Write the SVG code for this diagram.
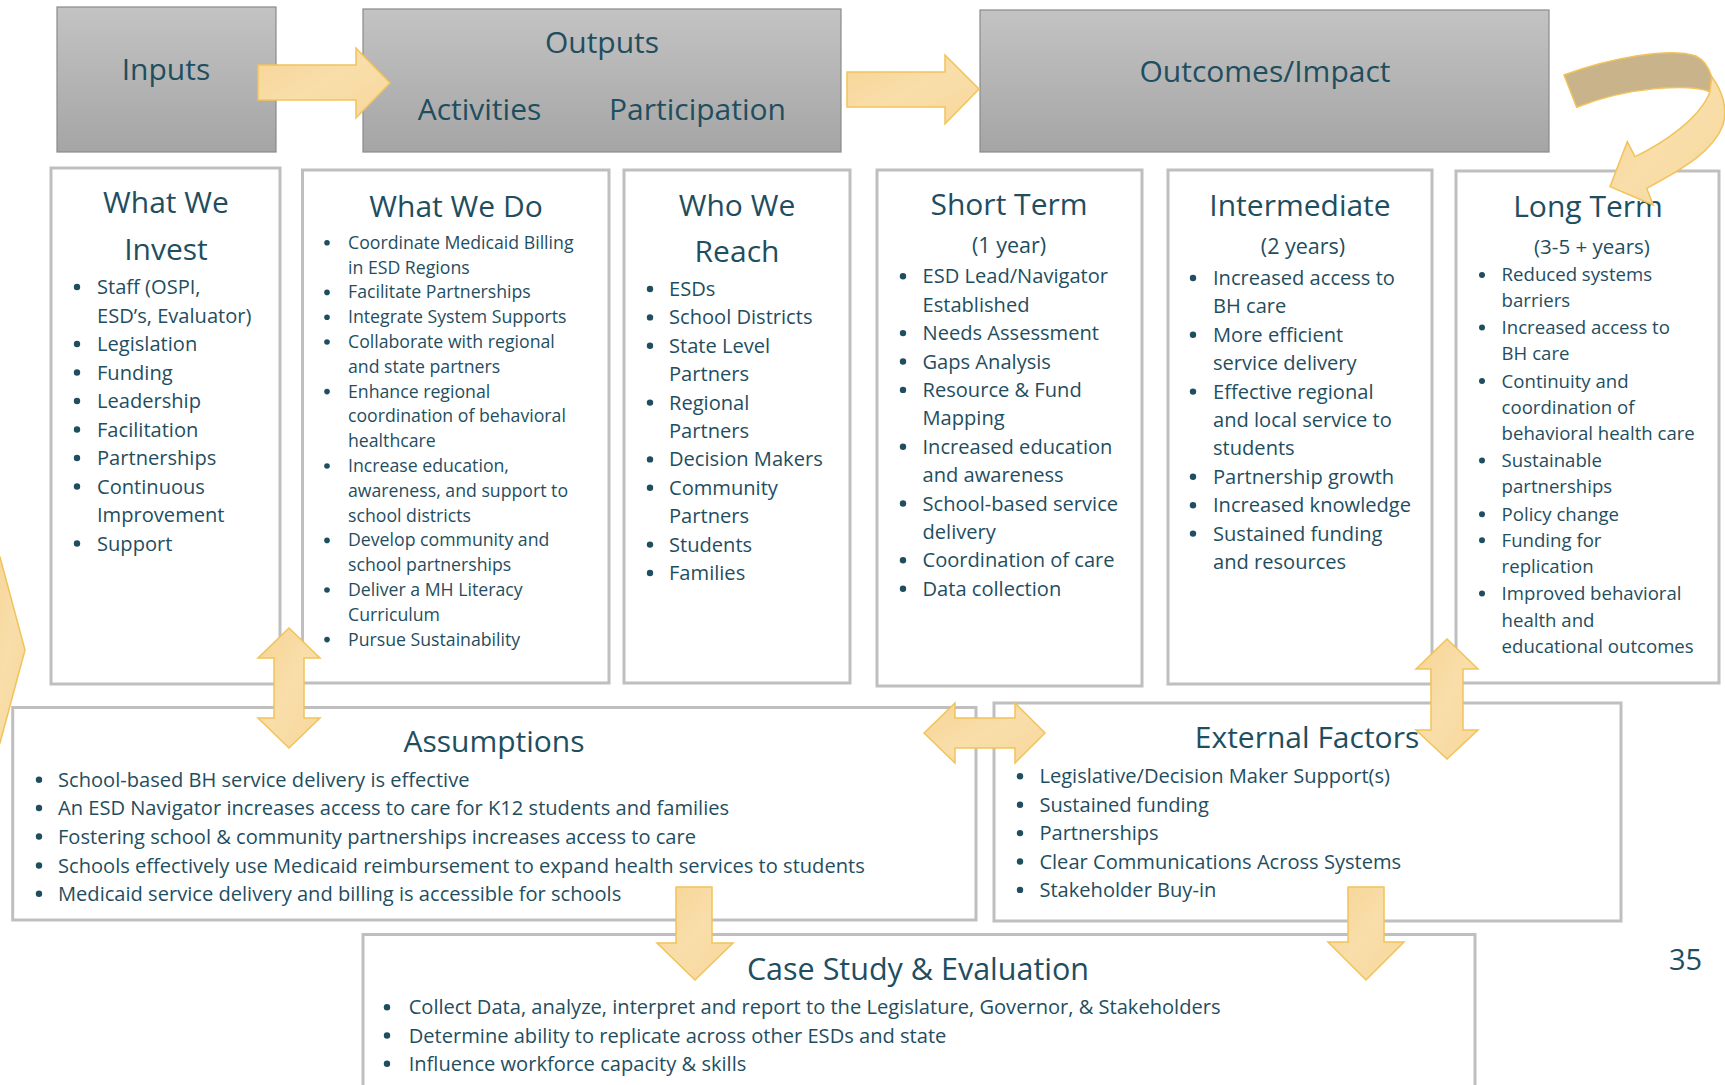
<svg xmlns="http://www.w3.org/2000/svg" width="1725" height="1085" viewBox="0 0 1725 1085">
<defs>
<linearGradient id="gh" x1="0" y1="0" x2="0" y2="1"><stop offset="0" stop-color="#c3c3c3"/><stop offset="1" stop-color="#a5a5a5"/></linearGradient>
<linearGradient id="ga" x1="0" y1="0" x2="1" y2="1"><stop offset="0" stop-color="#f6d494"/><stop offset="0.5" stop-color="#f9deaa"/><stop offset="1" stop-color="#f7d79b"/></linearGradient>
</defs>
<style>
.box{fill:#fff;stroke:#bfbfbf;stroke-width:3}
.hdr{fill:url(#gh);stroke:#8a8a8a;stroke-width:1.2}
text{font-family:"Open Sans","Noto Sans",sans-serif;fill:#1f4e5f}
.h{font-size:30px;text-anchor:middle}
.s{font-size:21.5px;text-anchor:middle}
.i{font-size:20.1px}
.d{font-size:17.7px}
.l{font-size:18.6px}
.b{fill:#1f4e5f}
.arr{fill:url(#ga);stroke:#f1c35a;stroke-width:1.5;stroke-linejoin:miter}
.back{fill:#c9b38a;stroke:#f1c35a;stroke-width:1.5}
</style>

<g id="inputs"><rect class="hdr" x="57" y="7" width="219" height="145"/><text class="h" x="166" y="80">Inputs</text></g>
<g id="outputs"><rect class="hdr" x="363" y="9" width="478" height="143"/><text class="h" x="602" y="53">Outputs</text><text class="h" x="479.5" y="120">Activities</text><text class="h" x="697.5" y="120">Participation</text></g>
<g id="outcomes"><rect class="hdr" x="980" y="10" width="569" height="142"/><text class="h" x="1265" y="82">Outcomes/Impact</text></g>

<g id="what-we-invest"><rect class="box" x="51" y="168" width="229" height="516"/>
<text class="h" x="166" y="213">What We</text><text class="h" x="166" y="260">Invest</text>
<g class="i">
<circle class="b" cx="77" cy="287" r="3.2"/><text x="97" y="294">Staff (OSPI,</text>
<text x="97" y="322.5">ESD’s, Evaluator)</text>
<circle class="b" cx="77" cy="344" r="3.2"/><text x="97" y="351">Legislation</text>
<circle class="b" cx="77" cy="372.5" r="3.2"/><text x="97" y="379.5">Funding</text>
<circle class="b" cx="77" cy="401" r="3.2"/><text x="97" y="408">Leadership</text>
<circle class="b" cx="77" cy="429.5" r="3.2"/><text x="97" y="436.5">Facilitation</text>
<circle class="b" cx="77" cy="458" r="3.2"/><text x="97" y="465">Partnerships</text>
<circle class="b" cx="77" cy="486.5" r="3.2"/><text x="97" y="493.5">Continuous</text>
<text x="97" y="522">Improvement</text>
<circle class="b" cx="77" cy="543.5" r="3.2"/><text x="97" y="550.5">Support</text>
</g></g>

<g id="what-we-do"><rect class="box" x="302.5" y="170" width="306.5" height="513"/>
<text class="h" x="456" y="217">What We Do</text>
<g class="d">
<circle class="b" cx="327" cy="242.8" r="2.8"/><text x="348" y="248.8">Coordinate Medicaid Billing</text>
<text x="348" y="273.6">in ESD Regions</text>
<circle class="b" cx="327" cy="292.4" r="2.8"/><text x="348" y="298.4">Facilitate Partnerships</text>
<circle class="b" cx="327" cy="317.2" r="2.8"/><text x="348" y="323.2">Integrate System Supports</text>
<circle class="b" cx="327" cy="342" r="2.8"/><text x="348" y="348">Collaborate with regional</text>
<text x="348" y="372.8">and state partners</text>
<circle class="b" cx="327" cy="391.6" r="2.8"/><text x="348" y="397.6">Enhance regional</text>
<text x="348" y="422.4">coordination of behavioral</text>
<text x="348" y="447.2">healthcare</text>
<circle class="b" cx="327" cy="466" r="2.8"/><text x="348" y="472">Increase education,</text>
<text x="348" y="496.8">awareness, and support to</text>
<text x="348" y="521.6">school districts</text>
<circle class="b" cx="327" cy="540.4" r="2.8"/><text x="348" y="546.4">Develop community and</text>
<text x="348" y="571.2">school partnerships</text>
<circle class="b" cx="327" cy="590" r="2.8"/><text x="348" y="596">Deliver a MH Literacy</text>
<text x="348" y="620.8">Curriculum</text>
<circle class="b" cx="327" cy="639.6" r="2.8"/><text x="348" y="645.6">Pursue Sustainability</text>
</g></g>

<g id="who-we-reach"><rect class="box" x="624" y="170" width="226" height="513"/>
<text class="h" x="737" y="216">Who We</text><text class="h" x="737" y="262">Reach</text>
<g class="i">
<circle class="b" cx="650" cy="289" r="3.2"/><text x="669" y="296">ESDs</text>
<circle class="b" cx="650" cy="317.4" r="3.2"/><text x="669" y="324.4">School Districts</text>
<circle class="b" cx="650" cy="345.8" r="3.2"/><text x="669" y="352.8">State Level</text>
<text x="669" y="381.2">Partners</text>
<circle class="b" cx="650" cy="402.6" r="3.2"/><text x="669" y="409.6">Regional</text>
<text x="669" y="438">Partners</text>
<circle class="b" cx="650" cy="459.4" r="3.2"/><text x="669" y="466.4">Decision Makers</text>
<circle class="b" cx="650" cy="487.8" r="3.2"/><text x="669" y="494.8">Community</text>
<text x="669" y="523.2">Partners</text>
<circle class="b" cx="650" cy="544.6" r="3.2"/><text x="669" y="551.6">Students</text>
<circle class="b" cx="650" cy="573" r="3.2"/><text x="669" y="580">Families</text>
</g></g>

<g id="short-term"><rect class="box" x="877" y="170" width="265" height="516"/>
<text class="h" x="1009" y="215">Short Term</text><text class="s" x="1009" y="253">(1 year)</text>
<g class="i">
<circle class="b" cx="903" cy="276.3" r="3.2"/><text x="922.5" y="283.3">ESD Lead/Navigator</text>
<text x="922.5" y="311.7">Established</text>
<circle class="b" cx="903" cy="333.1" r="3.2"/><text x="922.5" y="340.1">Needs Assessment</text>
<circle class="b" cx="903" cy="361.5" r="3.2"/><text x="922.5" y="368.5">Gaps Analysis</text>
<circle class="b" cx="903" cy="389.9" r="3.2"/><text x="922.5" y="396.9">Resource &amp; Fund</text>
<text x="922.5" y="425.3">Mapping</text>
<circle class="b" cx="903" cy="446.7" r="3.2"/><text x="922.5" y="453.7">Increased education</text>
<text x="922.5" y="482.1">and awareness</text>
<circle class="b" cx="903" cy="503.5" r="3.2"/><text x="922.5" y="510.5">School-based service</text>
<text x="922.5" y="538.9">delivery</text>
<circle class="b" cx="903" cy="560.3" r="3.2"/><text x="922.5" y="567.3">Coordination of care</text>
<circle class="b" cx="903" cy="588.7" r="3.2"/><text x="922.5" y="595.7">Data collection</text>
</g></g>

<g id="intermediate"><rect class="box" x="1168" y="170" width="264" height="514"/>
<text class="h" x="1300" y="216">Intermediate</text><text class="s" x="1303" y="253.6">(2 years)</text>
<g class="i">
<circle class="b" cx="1193" cy="278" r="3.2"/><text x="1213" y="285">Increased access to</text>
<text x="1213" y="313.4">BH care</text>
<circle class="b" cx="1193" cy="334.8" r="3.2"/><text x="1213" y="341.8">More efficient</text>
<text x="1213" y="370.2">service delivery</text>
<circle class="b" cx="1193" cy="391.6" r="3.2"/><text x="1213" y="398.6">Effective regional</text>
<text x="1213" y="427">and local service to</text>
<text x="1213" y="455.4">students</text>
<circle class="b" cx="1193" cy="476.8" r="3.2"/><text x="1213" y="483.8">Partnership growth</text>
<circle class="b" cx="1193" cy="505.2" r="3.2"/><text x="1213" y="512.2">Increased knowledge</text>
<circle class="b" cx="1193" cy="533.6" r="3.2"/><text x="1213" y="540.6">Sustained funding</text>
<text x="1213" y="569">and resources</text>
</g></g>

<g id="long-term"><rect class="box" x="1456" y="171" width="263" height="512"/>
<text class="h" x="1588" y="217">Long Term</text><text class="s" x="1592" y="253.6" style="font-size:20.5px">(3-5 + years)</text>
<g class="l">
<circle class="b" cx="1482" cy="274.9" r="3"/><text x="1501.6" y="281.4">Reduced systems</text>
<text x="1501.6" y="307.2">barriers</text>
<circle class="b" cx="1482" cy="327.5" r="3"/><text x="1501.6" y="334">Increased access to</text>
<text x="1501.6" y="359.8">BH care</text>
<circle class="b" cx="1482" cy="381" r="3"/><text x="1501.6" y="387.5">Continuity and</text>
<text x="1501.6" y="413.6">coordination of</text>
<text x="1501.6" y="439.6">behavioral health care</text>
<circle class="b" cx="1482" cy="460.5" r="3"/><text x="1501.6" y="467">Sustainable</text>
<text x="1501.6" y="493">partnerships</text>
<circle class="b" cx="1482" cy="514.2" r="3"/><text x="1501.6" y="520.7">Policy change</text>
<circle class="b" cx="1482" cy="540.3" r="3"/><text x="1501.6" y="546.8">Funding for</text>
<text x="1501.6" y="573">replication</text>
<circle class="b" cx="1482" cy="593.5" r="3"/><text x="1501.6" y="600">Improved behavioral</text>
<text x="1501.6" y="626.8">health and</text>
<text x="1501.6" y="652.8">educational outcomes</text>
</g></g>

<g id="assumptions"><rect class="box" x="12.7" y="707.5" width="963.3" height="212.5"/>
<text class="h" x="494" y="752">Assumptions</text>
<g class="i">
<circle class="b" cx="39" cy="779.7" r="3.2"/><text x="58" y="786.7">School-based BH service delivery is effective</text>
<circle class="b" cx="39" cy="808" r="3.2"/><text x="58" y="815">An ESD Navigator increases access to care for K12 students and families</text>
<circle class="b" cx="39" cy="836.5" r="3.2"/><text x="58" y="843.5">Fostering school &amp; community partnerships increases access to care</text>
<circle class="b" cx="39" cy="865.5" r="3.2"/><text x="58" y="872.5">Schools effectively use Medicaid reimbursement to expand health services to students</text>
<circle class="b" cx="39" cy="893.7" r="3.2"/><text x="58" y="900.7">Medicaid service delivery and billing is accessible for schools</text>
</g></g>

<g id="external-factors"><rect class="box" x="994" y="703" width="627" height="218"/>
<text class="h" x="1307" y="748">External Factors</text>
<g class="i">
<circle class="b" cx="1020" cy="776.3" r="3.2"/><text x="1039.4" y="783.3">Legislative/Decision Maker Support(s)</text>
<circle class="b" cx="1020" cy="804.7" r="3.2"/><text x="1039.4" y="811.7">Sustained funding</text>
<circle class="b" cx="1020" cy="833.1" r="3.2"/><text x="1039.4" y="840.1">Partnerships</text>
<circle class="b" cx="1020" cy="861.5" r="3.2"/><text x="1039.4" y="868.5">Clear Communications Across Systems</text>
<circle class="b" cx="1020" cy="889.9" r="3.2"/><text x="1039.4" y="896.9">Stakeholder Buy-in</text>
</g></g>

<g id="case-study"><rect class="box" x="363" y="934.5" width="1112" height="170"/>
<text class="h" x="918" y="980" style="font-size:30.5px">Case Study &amp; Evaluation</text>
<g class="i">
<circle class="b" cx="387" cy="1007.3" r="3.2"/><text x="408.7" y="1014.3">Collect Data, analyze, interpret and report to the Legislature, Governor, &amp; Stakeholders</text>
<circle class="b" cx="387" cy="1035.5" r="3.2"/><text x="408.7" y="1042.5">Determine ability to replicate across other ESDs and state</text>
<circle class="b" cx="387" cy="1063.7" r="3.2"/><text x="408.7" y="1070.7">Influence workforce capacity &amp; skills</text>
</g></g>

<text x="1669" y="970" style="font-size:29px">35</text>

<g id="connectors">
<polygon class="arr" points="258,65 356,65 356,48 390,83 356,118 356,100 258,100"/>
<polygon class="arr" points="847,72 945,72 945,55 979,89 945,124 945,107 847,107"/>
<path class="back" d="M1564,75 C1610,58 1670,47 1696,56 C1704,60 1709,68 1711.7,76.7 L1710,91.7 C1690,84 1630,86 1576.7,107.3 Z"/>
<path class="arr" d="M1711.7,76.7 C1722,90 1728,108 1723,125 C1714,150 1685,168 1646.7,188.3 L1653.3,205 L1610,186.7 L1627.3,141.7 L1635,156.7 C1665,142 1700,118 1710,91.7 Z"/>
<polygon class="arr" points="-10,557 0,557 25,650 0,743 -10,743"/>
<polygon class="arr" points="289,628 320,658 304,658 304,718 320,718 289,748 258,718 274,718 274,658 258,658"/>
<polygon class="arr" points="1447,639 1478,669 1463,669 1463,730 1478,730 1447,759 1416,730 1431,730 1431,669 1416,669"/>
<polygon class="arr" points="924,733 955,703 955,718 1015,718 1015,703 1045,733 1015,763 1015,748 955,748 955,763"/>
<polygon class="arr" points="676,887 712,887 712,943 733,943 695,980 657,943 676,943"/>
<polygon class="arr" points="1348,887 1384,887 1384,942 1404,942 1366,980 1328,942 1348,942"/>
</g>
</svg>
